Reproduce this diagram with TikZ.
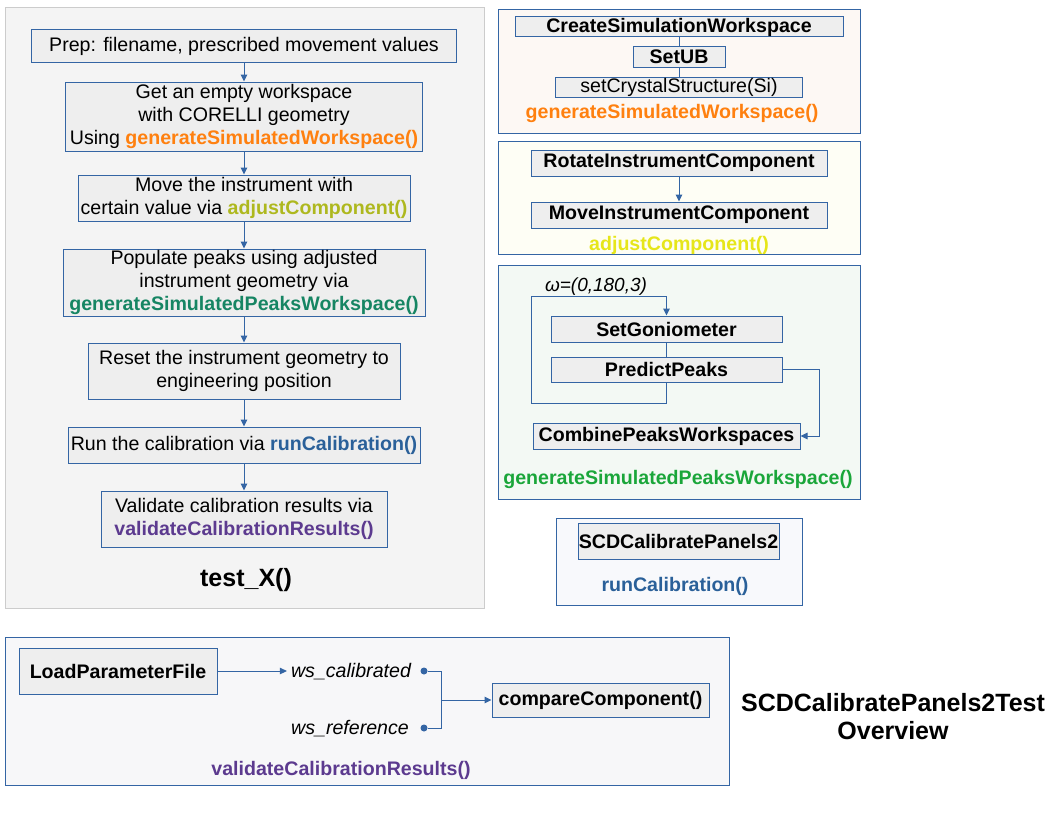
\documentclass[tikz,border=0pt]{standalone}
\usepackage{fontspec}
\setmainfont{Liberation Sans}
\usetikzlibrary{arrows.meta}

\definecolor{lineblue}{HTML}{3465A4}
\definecolor{boxgray}{HTML}{EEEEEE}
\definecolor{panelgray}{HTML}{F4F4F4}
\definecolor{panelrim}{HTML}{CCCCCC}
\definecolor{peach}{HTML}{FDF8F4}
\definecolor{cream}{HTML}{FEFEF5}
\definecolor{mint}{HTML}{F3F9F4}
\definecolor{frost}{HTML}{F8F9FC}
\definecolor{mist}{HTML}{F7F7F9}
\definecolor{fnorange}{HTML}{FF800F}
\definecolor{fnolive}{HTML}{AEB81E}
\definecolor{fnyellow}{HTML}{E6E61A}
\definecolor{fnteal}{HTML}{168563}
\definecolor{fngreen}{HTML}{1AA63A}
\definecolor{fnblue}{HTML}{2A6099}
\definecolor{fnpurple}{HTML}{5C3A8F}

\tikzset{
  panel/.style={draw=lineblue, line width=1pt},
  stepbox/.style={draw=lineblue, fill=boxgray, line width=1pt, align=center, inner sep=0pt,
    font=\fontsize{19.6}{23}\selectfont},
  algbox/.style={stepbox, font=\fontsize{19.6}{23}\selectfont\bfseries},
  flow/.style={draw=lineblue, line width=1pt, -{Triangle[length=7pt,width=6.5pt]}},
  link/.style={draw=lineblue, line width=1pt},
  fnlabel/.style={font=\fontsize{19.6}{23}\selectfont\bfseries, inner sep=0pt},
  varlabel/.style={font=\fontsize{19.6}{23}\selectfont\itshape, inner sep=4pt},
  dot/.style={circle, fill=lineblue, inner sep=0pt, minimum size=7pt}
}

\begin{document}
\begin{tikzpicture}[x=1pt,y=-1pt]
  \useasboundingbox (0,0) rectangle (1056,816);

  % left panel: test_X()
  \draw[draw=panelrim, fill=panelgray, line width=1pt] (5,8) rectangle (484,608);
  \node[stepbox, minimum width=425, minimum height=32] (prep) at (244,46)
    {Prep: filename, prescribed movement values};
  \node[stepbox, minimum width=357, minimum height=69] (empty) at (244,116.5)
    {Get an empty workspace\\ with CORELLI geometry\\
     Using \textcolor{fnorange}{\bfseries generateSimulatedWorkspace()}};
  \node[stepbox, minimum width=332, minimum height=46] (move) at (244,198)
    {Move the instrument with\\ certain value via \textcolor{fnolive}{\bfseries adjustComponent()}};
  \node[stepbox, minimum width=362, minimum height=67] (populate) at (244,282.5)
    {Populate peaks using adjusted\\ instrument geometry via\\
     \textcolor{fnteal}{\bfseries generateSimulatedPeaksWorkspace()}};
  \node[stepbox, minimum width=312, minimum height=56] (reset) at (244,371)
    {Reset the instrument geometry to\\ engineering position};
  \node[stepbox, minimum width=352, minimum height=36] (runcal) at (244,445)
    {Run the calibration via \textcolor{fnblue}{\bfseries runCalibration()}};
  \node[stepbox, minimum width=286, minimum height=56] (validate) at (244,519)
    {Validate calibration results via\\ \textcolor{fnpurple}{\bfseries validateCalibrationResults()}};
  \node[font=\fontsize{25}{29}\selectfont\bfseries] (testx) at (246,580) {test\_X()};
  \draw[flow] (prep) -- (empty);
  \draw[flow] (empty) -- (move);
  \draw[flow] (move) -- (populate);
  \draw[flow] (populate) -- (reset);
  \draw[flow] (reset) -- (runcal);
  \draw[flow] (runcal) -- (validate);

  % generateSimulatedWorkspace()
  \draw[panel, fill=peach] (498,10) rectangle (860,133);
  \node[algbox, minimum width=328, minimum height=20] (csw) at (679,27) {CreateSimulationWorkspace};
  \node[algbox, minimum width=92, minimum height=20] (setub) at (679,57) {SetUB};
  \node[stepbox, minimum width=247, minimum height=20] (crystal) at (679,87) {setCrystalStructure(Si)};
  \node[fnlabel, text=fnorange] (gsw) at (672,113.5) {generateSimulatedWorkspace()};
  \draw[link] (csw) -- (setub);
  \draw[link] (setub) -- (crystal);

  % adjustComponent()
  \draw[panel, fill=cream] (498,141) rectangle (860,254);
  \node[algbox, minimum width=296, minimum height=26] (rotate) at (679,163) {RotateInstrumentComponent};
  \node[algbox, minimum width=296, minimum height=26] (moveinst) at (679,215) {MoveInstrumentComponent};
  \node[fnlabel, text=fnyellow] (adj) at (679,245.5) {adjustComponent()};
  \draw[flow] (rotate) -- (moveinst);

  % generateSimulatedPeaksWorkspace()
  \draw[panel, fill=mint] (498,265) rectangle (860,499);
  \node[font=\fontsize{19}{23}\selectfont\itshape, inner sep=0pt] (omega) at (596,287) {ω=(0,180,3)};
  \node[algbox, minimum width=231, minimum height=26] (setgonio) at (666.5,329) {SetGoniometer};
  \node[algbox, minimum width=231, minimum height=25] (predict) at (666.5,369.5) {PredictPeaks};
  \node[algbox, minimum width=267, minimum height=26] (combine) at (666.5,436) {CombinePeaksWorkspaces};
  \node[fnlabel, text=fngreen] (gspw) at (678,479.5) {generateSimulatedPeaksWorkspace()};
  \draw[link] (setgonio) -- (predict);
  \draw[flow] (predict.south) -- ++(0,21) -- ++(-135.5,0) -- ++(0,-107) -- ++(135.5,0) -- (setgonio.north);
  \draw[flow] (predict.east) -- ++(37,0) |- (combine.east);

  % runCalibration()
  \draw[panel, fill=frost] (556,518) rectangle (802,605);
  \node[algbox, minimum width=201, minimum height=36] (scd) at (678.5,541) {SCDCalibratePanels2};
  \node[fnlabel, text=fnblue] (rc) at (675,586.5) {runCalibration()};

  % validateCalibrationResults()
  \draw[panel, fill=mist] (5,637) rectangle (729,785);
  \node[algbox, minimum width=198, minimum height=46] (loadpar) at (118,671) {LoadParameterFile};
  \node[varlabel] (wscal) at (351,672) {ws\_calibrated};
  \node[varlabel] (wsref) at (350,729) {ws\_reference};
  \node[dot] (caldot) at (424,671) {};
  \node[dot] (refdot) at (424,728) {};
  \coordinate (join) at (441,700);
  \node[algbox, minimum width=217, minimum height=34] (compare) at (600.5,700) {compareComponent()};
  \node[fnlabel, text=fnpurple] (vcr) at (341,770.5) {validateCalibrationResults()};
  \draw[flow] (loadpar) -- (wscal.west |- loadpar);
  \draw[link] (caldot) -- (caldot -| join) -- (refdot -| join) -- (refdot);
  \draw[flow] (join) -- (compare);

  % title
  \node[font=\fontsize{25}{28}\selectfont\bfseries, align=center] (title) at (893,717)
    {SCDCalibratePanels2Test\\ Overview};
\end{tikzpicture}
\end{document}
